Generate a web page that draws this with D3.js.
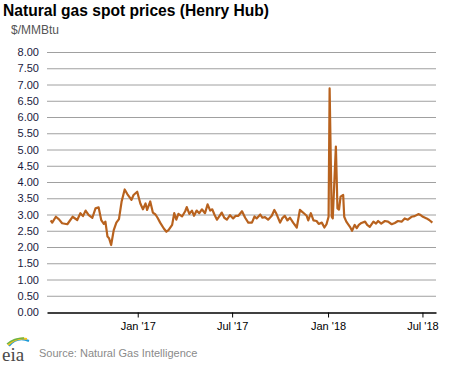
<!DOCTYPE html>
<html><head><meta charset="utf-8">
<script src="https://cdn.jsdelivr.net/npm/d3@7"></script>
<style>body{margin:0;background:#fff}svg{display:block;font-family:"Liberation Sans",Arial,sans-serif}</style>
</head><body><svg id="c" width="468" height="366"></svg>
<script>
const title = "Natural gas spot prices (Henry Hub)";
const unit = "$/MMBtu";
const source = "Source: Natural Gas Intelligence";
const yTicks = [0,0.5,1,1.5,2,2.5,3,3.5,4,4.5,5,5.5,6,6.5,7,7.5,8];
const xTickDates = ["2017-01-01","2017-07-01","2018-01-01","2018-07-01"];
const xTickLabels = ["Jan '17","Jul '17","Jan '18","Jul '18"];
const dates = [
"2016-07-18","2016-07-21","2016-07-28","2016-08-03","2016-08-09","2016-08-19","2016-08-29","2016-09-07","2016-09-13","2016-09-18",
"2016-09-23","2016-09-29","2016-10-06","2016-10-12","2016-10-18","2016-10-23","2016-10-28","2016-10-31","2016-11-04","2016-11-07",
"2016-11-11","2016-11-16","2016-11-21","2016-11-26","2016-12-01","2016-12-07","2016-12-12","2016-12-20","2016-12-24","2016-12-31",
"2017-01-06","2017-01-11","2017-01-16","2017-01-19","2017-01-25","2017-01-30","2017-02-04","2017-02-08","2017-02-13","2017-02-20",
"2017-02-25","2017-03-01","2017-03-08","2017-03-12","2017-03-16","2017-03-20","2017-03-27","2017-04-02","2017-04-05","2017-04-10",
"2017-04-15","2017-04-19","2017-04-24","2017-04-29","2017-05-04","2017-05-10","2017-05-15","2017-05-20","2017-05-24","2017-05-28",
"2017-06-02","2017-06-07","2017-06-11","2017-06-16","2017-06-21","2017-06-27","2017-07-03","2017-07-08","2017-07-13","2017-07-20",
"2017-07-26","2017-08-01","2017-08-08","2017-08-13","2017-08-17","2017-08-24","2017-08-28","2017-09-02","2017-09-08","2017-09-15",
"2017-09-20","2017-09-24","2017-10-01","2017-10-05","2017-10-10","2017-10-15","2017-10-20","2017-10-26","2017-11-02","2017-11-08",
"2017-11-14","2017-11-21","2017-11-24","2017-11-29","2017-12-04","2017-12-10","2017-12-14","2017-12-20","2017-12-25","2017-12-29",
"2018-01-02","2018-01-04","2018-01-08","2018-01-10","2018-01-16","2018-01-19","2018-01-22","2018-01-25","2018-01-30","2018-02-01",
"2018-02-05","2018-02-12","2018-02-16","2018-02-21","2018-02-25","2018-03-01","2018-03-06","2018-03-13","2018-03-17","2018-03-22",
"2018-03-29","2018-04-03","2018-04-07","2018-04-13","2018-04-20","2018-04-26","2018-05-03","2018-05-09","2018-05-15","2018-05-22",
"2018-05-28","2018-06-03","2018-06-10","2018-06-16","2018-06-23","2018-06-27","2018-07-02","2018-07-09","2018-07-14","2018-07-20"];
const prices = [
2.82,2.75,2.93,2.85,2.73,2.70,2.93,2.83,3.04,2.95,
3.12,2.98,2.90,3.19,3.22,2.83,2.71,2.78,2.32,2.27,
2.06,2.52,2.75,2.86,3.39,3.77,3.63,3.45,3.60,3.70,
3.34,3.16,3.34,3.14,3.40,3.06,3.00,2.90,2.75,2.57,
2.47,2.52,2.68,3.04,2.84,3.02,2.94,3.10,3.23,3.02,
3.12,2.96,3.12,3.04,3.16,3.04,3.31,3.12,3.16,3.00,
2.84,2.96,3.06,2.90,2.84,2.98,2.88,2.96,2.96,3.10,
2.90,2.75,2.75,2.94,2.88,3.00,2.90,2.92,2.84,2.96,
3.14,3.02,2.75,2.88,2.96,2.82,2.90,2.75,2.60,3.14,
3.06,2.96,2.82,3.04,2.82,2.80,2.71,2.75,2.60,2.70,
2.93,6.88,2.93,2.88,5.09,3.19,3.15,3.55,3.60,2.93,
2.78,2.62,2.50,2.68,2.58,2.68,2.74,2.78,2.68,2.62,
2.78,2.72,2.80,2.72,2.80,2.78,2.70,2.74,2.80,2.78,
2.88,2.84,2.93,2.95,3.01,2.99,2.93,2.88,2.83,2.75];

const parse = d3.utcParse("%Y-%m-%d");
const data = dates.map((d,i)=>({date:parse(d), v:prices[i]}));
const svg = d3.select("#c");
const L=47, R=436, T=52, B=312;
const x = d3.scaleUtc().domain([parse("2016-07-11"), parse("2018-07-27")]).range([L,R]);
const y = d3.scaleLinear().domain([0,8]).range([B,T]);

// title
svg.append("text").attr("x",3).attr("y",16).attr("font-size",15.6).attr("font-weight","bold").attr("fill","#000").text(title);
svg.append("text").attr("x",11).attr("y",34).attr("font-size",12).attr("fill","#555").text(unit);

// grid
svg.append("g").selectAll("line").data(yTicks.filter(t=>t>0)).join("line")
  .attr("x1",L).attr("x2",R).attr("y1",d=>y(d)+0.5).attr("y2",d=>y(d)+0.5)
  .attr("stroke","#a0a0a0").attr("stroke-width",1);
// y labels
svg.append("g").selectAll("text").data(yTicks).join("text")
  .attr("x",39).attr("y",d=>y(d)+4).attr("text-anchor","end").attr("font-size",11).attr("fill","#1a1a40")
  .text(d=>d3.format(".2f")(d));

// x axis
const xa = d3.axisBottom(x).tickValues(xTickDates.map(parse)).tickFormat((d,i)=>xTickLabels[i]).tickSize(5).tickSizeOuter(0);
const gx = svg.append("g").attr("transform",`translate(0,${B+0.5})`).call(xa);
gx.select(".domain").attr("stroke","#000").attr("stroke-width",1.5);
gx.selectAll(".tick line").attr("stroke","#000");
gx.selectAll(".tick text").attr("font-size",11).attr("fill","#000").attr("font-family","Liberation Sans, Arial, sans-serif").attr("dy","0.9em");

// line
svg.append("path").datum(data).attr("fill","none").attr("stroke","#b8621e").attr("stroke-width",2.2)
  .attr("stroke-linejoin","round")
  .attr("d", d3.line().x(d=>x(d.date)).y(d=>y(d.v)));

// source
svg.append("text").attr("x",39).attr("y",357).attr("font-size",11).attr("fill","#8a8a8a").text(source);
// eia logo
const lg = svg.append("g");
lg.append("path").attr("d","M9,346 Q17,336 29,341").attr("fill","none").attr("stroke","#1f9ad6").attr("stroke-width",2);
lg.append("path").attr("d","M8,345 Q16,337 27,339").attr("fill","none").attr("stroke","#f4c21b").attr("stroke-width",2);
lg.append("path").attr("d","M7,344 Q14,338 24,338").attr("fill","none").attr("stroke","#6ab446").attr("stroke-width",1.5);
lg.append("text").attr("x",2).attr("y",361).attr("font-size",19).attr("font-family","Liberation Serif, Times New Roman, serif").attr("fill","#4a4a4a").text("eia");
</script></body></html>
